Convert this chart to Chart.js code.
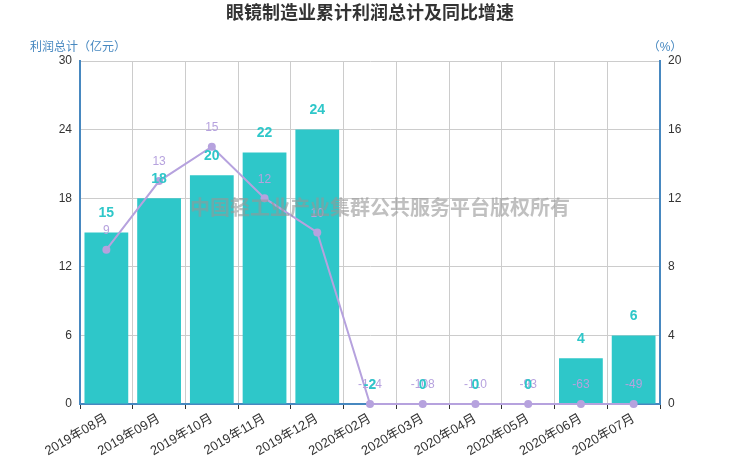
<!DOCTYPE html>
<html>
<head>
<meta charset="utf-8">
<script src="https://cdn.jsdelivr.net/npm/chart.js@4.4.1/dist/chart.umd.min.js"></script>
<style>
  html, body { margin: 0; padding: 0; background: #fff; }
  #wrap { width: 740px; height: 462px; }
</style>
</head>
<body>
<div id="wrap"><canvas id="chart" width="740" height="462"></canvas></div>
<script>
// data
const months = ['2019年08月', '2019年09月', '2019年10月', '2019年11月', '2019年12月',
                '2020年02月', '2020年03月', '2020年04月', '2020年05月', '2020年06月', '2020年07月'];
const profit = [15, 18, 20, 22, 24, -2, 0, 0, 0, 4, 6];          // 亿元
const growth = [9, 13, 15, 12, 10, -124, -108, -110, -93, -63, -49]; // %

const teal = '#2ec7c9';
const lavender = '#b6a2de';
const axisBlue = '#4788c0';
const fontFamily = "Arial, 'Liberation Sans', 'Noto Sans CJK SC', sans-serif";

Chart.defaults.font.family = fontFamily;
Chart.defaults.color = '#333';

// value labels + titles + watermark
const decorPlugin = {
    id: 'decor',
    afterDatasetsDraw(chart) {
        const ctx = chart.ctx;
        const area = chart.chartArea;
        ctx.save();
        ctx.textAlign = 'center';
        ctx.textBaseline = 'middle';

        // line labels
        ctx.font = '12px ' + fontFamily;
        ctx.fillStyle = lavender;
        chart.getDatasetMeta(1).data.forEach((pt, i) => {
            const y = Math.min(pt.y, area.bottom);
            ctx.fillText(String(growth[i]), pt.x, y - 19);
        });

        // bar labels
        ctx.font = 'bold 14px ' + fontFamily;
        ctx.fillStyle = teal;
        chart.getDatasetMeta(0).data.forEach((bar, i) => {
            const y = Math.min(bar.y, area.bottom);
            ctx.fillText(String(profit[i]), bar.x, y - 19);
        });
        ctx.restore();
    },
    afterDraw(chart) {
        const ctx = chart.ctx;
        ctx.save();
        ctx.textAlign = 'center';
        ctx.textBaseline = 'middle';

        ctx.font = 'bold 18px ' + fontFamily;
        ctx.fillStyle = '#333';
        ctx.fillText('眼镜制造业累计利润总计及同比增速', 370, 14);

        ctx.font = '12px ' + fontFamily;
        ctx.fillStyle = axisBlue;
        ctx.fillText('利润总计（亿元）', 78, 48);
        ctx.fillText('（%）', 665, 48);

        ctx.font = 'bold 20px ' + fontFamily;
        ctx.fillStyle = 'rgba(150,150,150,0.6)';
        ctx.fillText('中国轻工业产业集群公共服务平台版权所有', 380, 209);
        ctx.restore();
    }
};

new Chart(document.getElementById('chart').getContext('2d'), {
    type: 'bar',
    data: {
        labels: months,
        datasets: [{
            label: '利润总计',
            data: profit,
            backgroundColor: teal,
            barPercentage: 0.83,
            categoryPercentage: 1,
            yAxisID: 'y',
            order: 1
        }, {
            type: 'line',
            label: '同比增速',
            // the right axis starts at 0, so negative growth sits on the axis
            data: growth.map(v => Math.max(v, 0)),
            borderColor: lavender,
            backgroundColor: lavender,
            borderWidth: 2,
            pointRadius: 4,
            pointBackgroundColor: lavender,
            pointBorderWidth: 0,
            tension: 0,
            clip: false,
            yAxisID: 'y1',
            order: 0
        }]
    },
    options: {
        responsive: false,
        animation: false,
        devicePixelRatio: 1,
        layout: { padding: { top: 61, left: 0, right: 0, bottom: 0 } },
        plugins: {
            legend: { display: false },
            tooltip: { enabled: false }
        },
        scales: {
            x: {
                grid: {
                    offset: true,
                    color: '#ccc',
                    tickColor: '#333',
                    tickLength: 5
                },
                border: { color: axisBlue, width: 2 },
                ticks: {
                    minRotation: 30,
                    maxRotation: 30,
                    autoSkip: false,
                    color: '#333',
                    font: { size: 13 },
                    padding: 2
                },
                afterFit(scale) { scale.height = 58; }
            },
            y: {
                position: 'left',
                min: 0,
                max: 30,
                ticks: { stepSize: 6, color: '#333', font: { size: 12 }, padding: 8 },
                grid: { color: '#ccc', drawTicks: false },
                border: { color: axisBlue, width: 2 },
                afterFit(scale) { scale.width = 80; }
            },
            y1: {
                position: 'right',
                min: 0,
                max: 20,
                ticks: { stepSize: 4, color: '#333', font: { size: 12 }, padding: 8 },
                grid: { drawOnChartArea: false, drawTicks: false },
                border: { color: axisBlue, width: 2 },
                afterFit(scale) { scale.width = 80; }
            }
        }
    },
    plugins: [decorPlugin]
});
</script>
</body>
</html>
